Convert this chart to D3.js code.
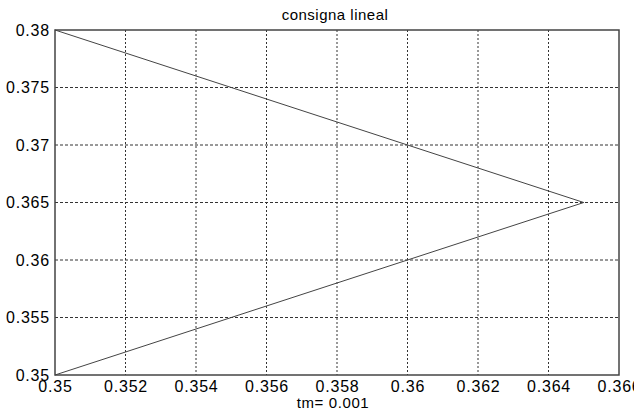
<!DOCTYPE html>
<html>
<head>
<meta charset="utf-8">
<script src="https://cdn.jsdelivr.net/npm/d3@7"></script>
<style>
  body { margin: 0; background: #fff; }
  svg text { font-family: "Liberation Sans", Arial, sans-serif; fill: #000; }
</style>
</head>
<body>
<script>
// line points (x, y)
const xs = [0.35, 0.365, 0.35];
const ys = [0.38, 0.365, 0.35];

const xTicks = [0.35, 0.352, 0.354, 0.356, 0.358, 0.36, 0.362, 0.364, 0.366];
const yTicks = [0.35, 0.355, 0.36, 0.365, 0.37, 0.375, 0.38];

const w = 634;
const h = 413;
const mLeft = 55, mRight = 619, mTop = 30, mBottom = 375;

const svg = d3.select("body").append("svg")
  .attr("width", w)
  .attr("height", h);

const x = d3.scaleLinear().domain([0.35, 0.366]).range([mLeft, mRight]);
const y = d3.scaleLinear().domain([0.35, 0.38]).range([mBottom, mTop]);

const fmt = (d) => String(+d.toFixed(3));

// grid
svg.append("g")
  .selectAll("line")
  .data(xTicks.slice(1, -1))
  .enter()
  .append("line")
  .attr("x1", (d) => x(d)).attr("x2", (d) => x(d))
  .attr("y1", mTop).attr("y2", mBottom)
  .attr("stroke", "#333").attr("stroke-width", 1)
  .attr("stroke-dasharray", "2,2");

svg.append("g")
  .selectAll("line")
  .data(yTicks.slice(1, -1))
  .enter()
  .append("line")
  .attr("y1", (d) => y(d)).attr("y2", (d) => y(d))
  .attr("x1", mLeft).attr("x2", mRight)
  .attr("stroke", "#333").attr("stroke-width", 1)
  .attr("stroke-dasharray", "3,2");

// axes
const xAxis = d3.axisBottom(x).tickValues(xTicks).tickFormat(fmt).tickSize(0).tickPadding(6);
const yAxis = d3.axisLeft(y).tickValues(yTicks).tickFormat(fmt).tickSize(0).tickPadding(5);

const gx = svg.append("g")
  .attr("transform", "translate(0," + mBottom + ")")
  .call(xAxis);
const gy = svg.append("g")
  .attr("transform", "translate(" + mLeft + ",0)")
  .call(yAxis);

[gx, gy].forEach((g) => {
  g.select(".domain").remove();
  g.selectAll("text")
    .attr("font-size", 16)
    .attr("letter-spacing", "0.8px")
    .attr("font-family", "Liberation Sans, Arial, sans-serif")
    .attr("fill", "#000");
});
gx.selectAll("text").attr("dy", "11px");

// box
svg.append("rect")
  .attr("x", mLeft).attr("y", mTop)
  .attr("width", mRight - mLeft).attr("height", mBottom - mTop)
  .attr("fill", "none").attr("stroke", "#444").attr("stroke-width", 1.5);

// data line
const pts = xs.map((d, i) => [d, ys[i]]);
svg.append("path")
  .datum(pts)
  .attr("d", d3.line().x((d) => x(d[0])).y((d) => y(d[1])))
  .attr("fill", "none")
  .attr("stroke", "#444")
  .attr("stroke-width", 1);

// title and label
svg.append("text")
  .attr("x", 335).attr("y", 20)
  .attr("text-anchor", "middle")
  .attr("font-size", 15)
  .attr("letter-spacing", "0.5px")
  .text("consigna lineal");

svg.append("text")
  .attr("x", 333).attr("y", 408)
  .attr("text-anchor", "middle")
  .attr("font-size", 15)
  .attr("letter-spacing", "0.6px")
  .text("tm= 0.001");
</script>
</body>
</html>
